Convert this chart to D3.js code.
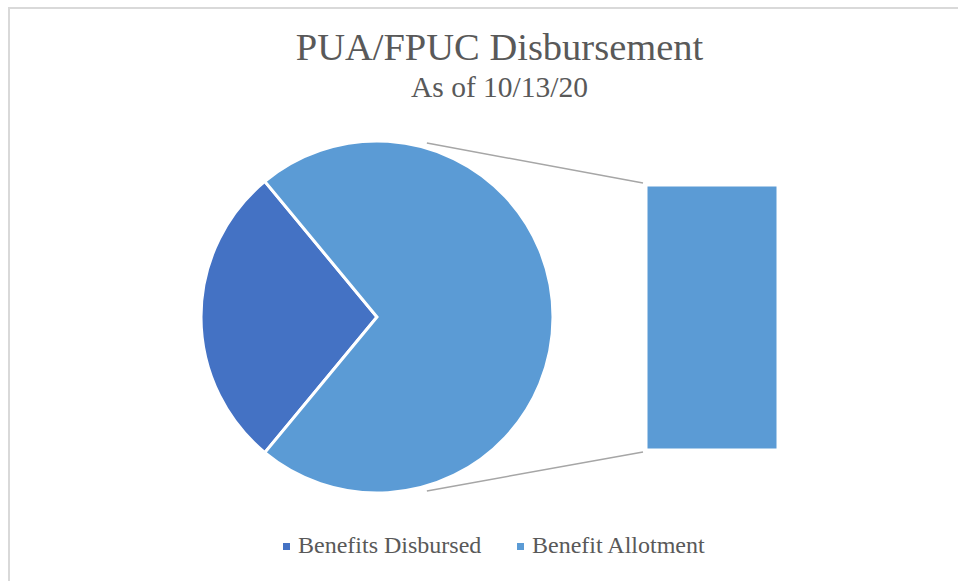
<!DOCTYPE html>
<html>
<head>
<meta charset="utf-8">
<script src="https://cdn.jsdelivr.net/npm/d3@7"></script>
<style>
  html, body { margin: 0; padding: 0; background: #fff; }
  svg { display: block; }
</style>
</head>
<body>
<svg></svg>
<script>
const width = 958;
const height = 581;
const font = '"Liberation Serif"';

// data (share of total)
const categories = ['Benefits Disbursed', 'Benefit Allotment'];
const values = [28, 72];
const colors = ['#4472c4', '#5b9bd5'];
const title = 'PUA/FPUC Disbursement';
const subtitle = 'As of 10/13/20';

const svg = d3.select('svg')
    .attr('width', width)
    .attr('height', height);

// chart frame (only top and left edges visible in the shot)
svg.append('path')
    .attr('d', `M9,${height} V8 H${width}`)
    .attr('fill', 'none')
    .attr('stroke', '#d9d9d9')
    .attr('stroke-width', 2);

svg.append('text')
    .attr('x', 499.5).attr('y', 59.5)
    .attr('text-anchor', 'middle')
    .style('font-family', font)
    .style('font-size', '38.5px')
    .attr('fill', '#595959')
    .text(title);

svg.append('text')
    .attr('x', 499.5).attr('y', 97)
    .attr('text-anchor', 'middle')
    .style('font-family', font)
    .style('font-size', '29.5px')
    .attr('fill', '#595959')
    .text(subtitle);

const cx = 377, cy = 317, r = 176;
const total = d3.sum(values);
// big "other" slice centred on the right, as Excel does for bar-of-pie
const otherAngle = values[1] / total * 2 * Math.PI;
const start = Math.PI / 2 + otherAngle / 2;

const arcs = d3.pie()
  .sort(null)
  .value(d => d)
  .startAngle(start)
  .endAngle(start + 2 * Math.PI)
  (values);

const arc = d3.arc().innerRadius(0).outerRadius(r);

const chart = svg.append('g')
    .classed('chart', true)
    .attr('transform', `translate(${cx}, ${cy})`);

chart.selectAll('.slice')
  .data(arcs)
  .enter()
  .append('path')
    .classed('slice', true)
    .attr('fill', (d, i) => colors[i])
    .attr('stroke', '#fff')
    .attr('stroke-width', 3)
    .attr('stroke-linejoin', 'miter')
    .attr('d', arc);

// secondary bar (the "other" slice broken out)
const barX = 647, barW = 130;
const y = d3.scaleLinear()
    .domain([0, values[1]])
    .range([449, 186]);

svg.append('rect')
    .attr('x', barX)
    .attr('y', y(values[1]))
    .attr('width', barW)
    .attr('height', y(0) - y(values[1]))
    .attr('fill', colors[1])
    .attr('stroke', '#fff')
    .attr('stroke-width', 1);

// connector lines
const a = 16 * Math.PI / 180, rl = 181;
const lines = [
  [cx + rl * Math.sin(a), cy - rl * Math.cos(a), barX - 4, y(values[1]) - 3],
  [cx + rl * Math.sin(a), cy + rl * Math.cos(a), barX - 4, y(0) + 3]
];
svg.selectAll('.connector')
  .data(lines)
  .enter()
  .append('line')
    .classed('connector', true)
    .attr('x1', d => d[0]).attr('y1', d => d[1])
    .attr('x2', d => d[2]).attr('y2', d => d[3])
    .attr('stroke', '#a6a6a6')
    .attr('stroke-width', 1.5);

// legend
const legendX = [283, 517];
const legend = svg.selectAll('.legend')
  .data(categories)
  .enter()
  .append('g')
    .classed('legend', true)
    .attr('transform', (d, i) => `translate(${legendX[i]}, 543)`);

legend.append('rect')
    .attr('width', 7).attr('height', 7)
    .attr('fill', (d, i) => colors[i]);

legend.append('text')
    .attr('x', 15).attr('y', 10)
    .style('font-family', font)
    .style('font-size', '24px')
    .attr('fill', '#595959')
    .text(d => d);
</script>
</body>
</html>
